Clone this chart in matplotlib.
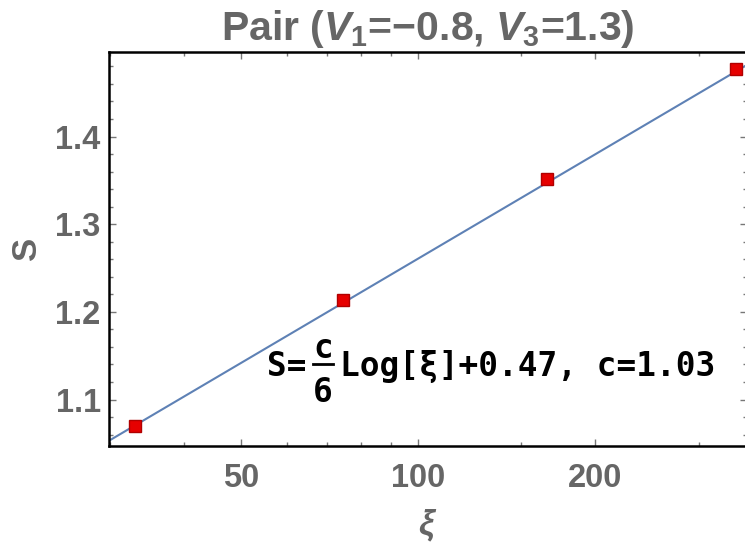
import numpy as np
import matplotlib
matplotlib.use('Agg')
import matplotlib.pyplot as plt
from matplotlib.lines import Line2D
from matplotlib.ticker import FixedLocator, NullFormatter

# data
xi = [33.1, 74.5, 166.0, 348.0]
S = [1.070, 1.213, 1.3515, 1.477]
c_fit = 1.03
b_fit = 0.47
x_ticks = [50, 100, 200]
x_minor = [30, 40, 60, 70, 80, 90, 150, 300]
y_ticks = [1.1, 1.2, 1.3, 1.4]
x_range = (29.85, 362.0)
y_range = (1.047, 1.497)

gray = '#666666'
plt.rcParams['font.family'] = ['Liberation Sans', 'DejaVu Sans']
plt.rcParams['font.weight'] = 'bold'
plt.rcParams['mathtext.fontset'] = 'custom'
plt.rcParams['mathtext.rm'] = 'Liberation Sans:bold'
plt.rcParams['mathtext.it'] = 'Liberation Sans:italic:bold'
plt.rcParams['mathtext.bf'] = 'Liberation Sans:bold'

W, H = 745, 550
fig = plt.figure(figsize=(W / 100, H / 100), dpi=100)
ax = fig.add_axes([109 / W, 1 - 446 / H, 637.5 / W, 394.5 / H])

# fit line from the stated formula, evaluated over the visible range
xl = np.array(x_range)
ax.plot(xl, c_fit / 6 * np.log(xl) + b_fit, color='#5E81B5', lw=1.5, zorder=2)
ax.plot(xi, S, linestyle='none', marker='s', markersize=8.5,
        markerfacecolor='#e60000', markeredgecolor='#b00000',
        markeredgewidth=1.0, zorder=3)

ax.set_xscale('log')
ax.set_xlim(*x_range)
ax.set_ylim(*y_range)

ax.xaxis.set_major_locator(FixedLocator(x_ticks))
ax.xaxis.set_minor_locator(FixedLocator(x_minor))
ax.xaxis.set_minor_formatter(NullFormatter())
ax.set_xticklabels([str(t) for t in x_ticks])
ax.yaxis.set_major_locator(FixedLocator(y_ticks))
ax.yaxis.set_minor_locator(FixedLocator(np.arange(1.04, 1.50, 0.02)))
ax.set_yticklabels([f'{t:.1f}' for t in y_ticks])

ax.tick_params(which='both', direction='in', top=True, right=True,
               color='#777777', labelcolor=gray, labelsize=23.5)
ax.tick_params(which='major', length=5, width=1.0)
ax.tick_params(which='minor', length=3, width=1.0)
ax.tick_params(axis='x', which='major', pad=12)
ax.tick_params(axis='y', which='major', pad=6)

for sp in ax.spines.values():
    sp.set_linewidth(1.8)
    sp.set_color('black')

ax.set_title(r'Pair ($V_1$=−0.8, $V_3$=1.3)', fontsize=29.5, color=gray,
             fontweight='bold', pad=8)
ax.set_xlabel(r'$\xi$', fontsize=25, color=gray, labelpad=10)
ax.set_ylabel('S', fontsize=25, color=gray, fontweight='bold', labelpad=9)

# fit formula, built from pieces so the fraction keeps full-size c and 6
mono = dict(family='DejaVu Sans Mono', fontweight='bold', fontsize=23.6,
            color='black', transform=fig.transFigure)
fig.text(267 / W, 1 - 376 / H, 'S=', ha='left', va='baseline', **mono)
fig.text(323 / W, 1 - 358 / H, 'c', ha='center', va='baseline', **mono)
fig.text(323 / W, 1 - 402 / H, '6', ha='center', va='baseline', **mono)
fig.add_artist(Line2D([313 / W, 333 / W], [1 - 364 / H, 1 - 364 / H],
                      transform=fig.transFigure, color='black', lw=2.0))
fig.text(340 / W, 1 - 376 / H, 'Log[ξ]+0.47, c=1.03', ha='left',
         va='baseline', **mono)

fig.savefig('out.png', dpi=100)
